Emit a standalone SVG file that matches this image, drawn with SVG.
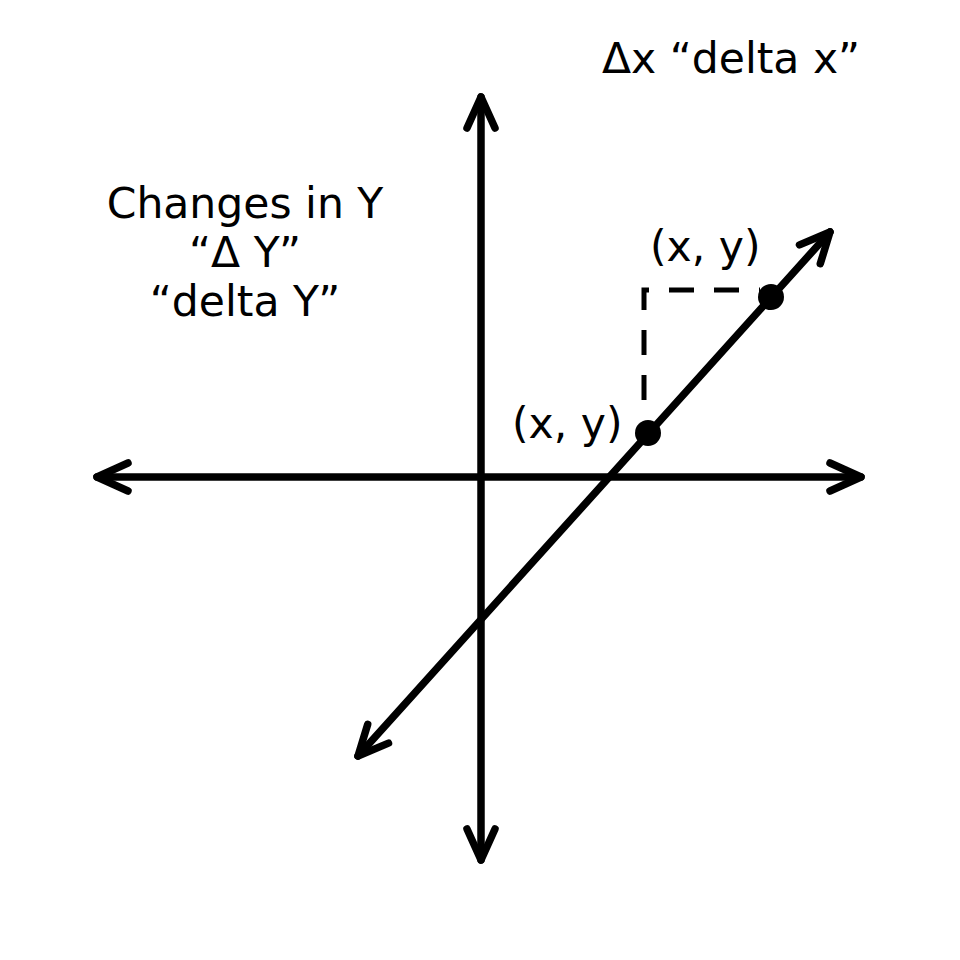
<svg xmlns="http://www.w3.org/2000/svg" width="960" height="960" viewBox="0 0 960 960">
<style>
.ax{fill:none;stroke:#000;stroke-width:7.5;stroke-linecap:round;stroke-linejoin:round}
.dash{fill:none;stroke:#000;stroke-width:5;stroke-dasharray:25 20}
.t{font-family:"DejaVu Sans",sans-serif;font-size:42.5px;fill:#000}
</style>
<rect width="960" height="960" fill="#fff"/>
<g id="connectors">
<g id="y-axis">
<path class="ax" d="M481,97 L481,860"/>
<path class="ax" d="M467,128 L481,97 L495,128"/>
<path class="ax" d="M467,829 L481,860 L495,829"/>
</g>
<g id="x-axis">
<path class="ax" d="M97,477 L861,477"/>
<path class="ax" d="M128,463 L97,477 L128,491"/>
<path class="ax" d="M830,463 L861,477 L830,491"/>
</g>
<g id="line">
<path class="ax" d="M358,756 L830,232"/>
<path class="ax" d="M799.5,244.9 L830,232 L820.3,263.7"/>
<path class="ax" d="M367.7,724.3 L358,756 L388.5,743.1"/>
</g>
<path id="delta" class="dash" d="M644,400 L644,290 L760,290"/>
</g>
<g id="point1">
<circle cx="648" cy="433" r="13"/>
<text class="t" x="512" y="438">(x, y)</text>
</g>
<g id="point2">
<circle cx="771" cy="297" r="13"/>
<text class="t" x="650" y="261">(x, y)</text>
</g>
<g id="label-dx">
<text class="t" x="602" y="73">Δx “delta x”</text>
</g>
<g id="label-dy">
<text class="t" text-anchor="middle" x="245" y="218">Changes in Y</text>
<text class="t" text-anchor="middle" x="245" y="267">“Δ Y”</text>
<text class="t" text-anchor="middle" x="245" y="316">“delta Y”</text>
</g>
</svg>
